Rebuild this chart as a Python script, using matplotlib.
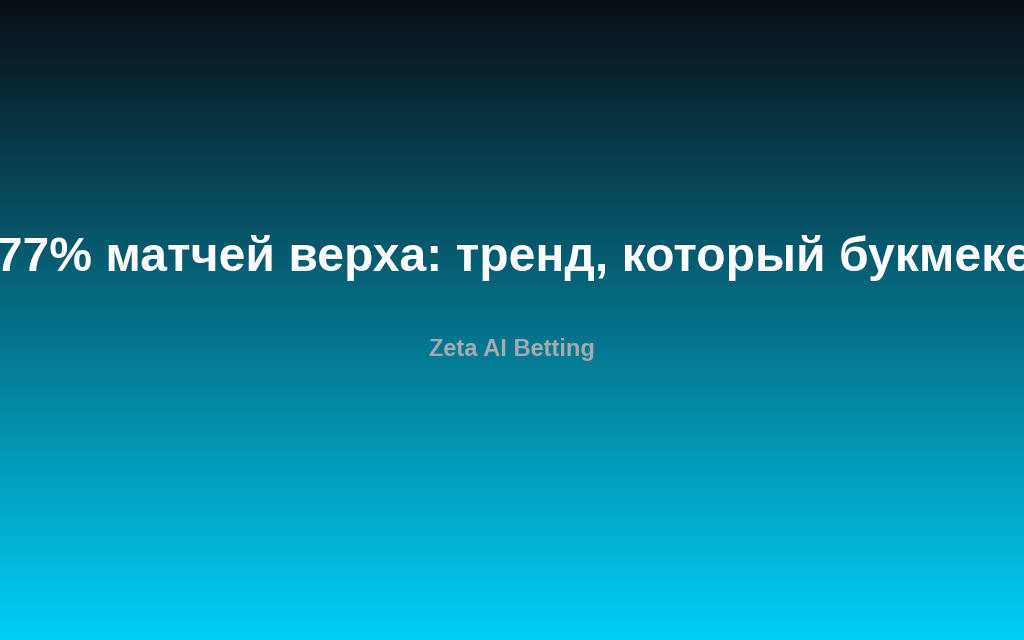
import numpy as np
import matplotlib
matplotlib.use("Agg")
import matplotlib.pyplot as plt
from matplotlib.colors import LinearSegmentedColormap

title_text = "77% матчей верха: тренд, который букмеке"
subtitle_text = "Zeta AI Betting"
gradient_colors = ["#0a0e16", "#00d0f8"]

fig = plt.figure(figsize=(10.24, 6.4), dpi=100)
ax = fig.add_axes([0, 0, 1, 1])
ax.set_axis_off()
cmap = LinearSegmentedColormap.from_list("bg", gradient_colors)
grad = np.linspace(0, 1, 640).reshape(-1, 1)
ax.imshow(grad, cmap=cmap, aspect="auto", extent=[0, 1, 0, 1], origin="upper")
ax.set_xlim(0, 1)
ax.set_ylim(0, 1)

fig.text(0.5 + 1.5 / 1024, 1 - 271 / 640, title_text, ha="center", va="baseline",
         color="white", fontsize=34.6, fontweight="bold", family=["Liberation Sans", "DejaVu Sans"])
fig.text(0.5, 1 - 356 / 640, subtitle_text, ha="center", va="baseline",
         color="#a6abae", fontsize=17, fontweight="bold", family=["Liberation Sans", "DejaVu Sans"])

fig.savefig("out.png", dpi=100)
